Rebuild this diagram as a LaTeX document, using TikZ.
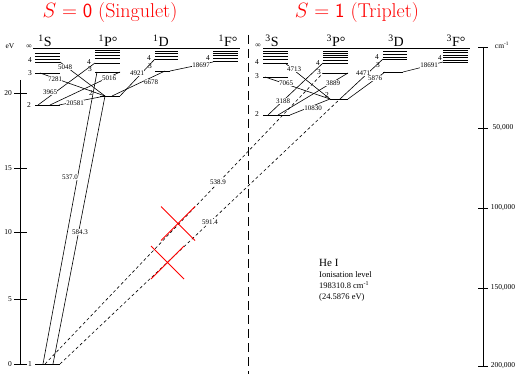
\documentclass[tikz,border=0pt]{standalone}
\usepackage{fontspec}
\newfontfamily\tms{Liberation Serif}
% a stack of level lines from x=#1 to x=#2
\newcommand\lvls[3]{\foreach \yy in {#3} \draw[lev] (#1,\yy) -- (#2,\yy);}
\begin{document}
\begin{tikzpicture}[x=1pt,y=-1pt,
  lev/.style={line width=0.8pt},
  tr/.style={line width=0.6pt},
  forb/.style={line width=0.6pt,dash pattern=on 3pt off 2.5pt},
  lbl/.style={font=\tms\fontsize{7}{7}\selectfont,fill=white,inner sep=0.4pt},
  num/.style={font=\tms\fontsize{7.5}{7.5}\selectfont,inner sep=0pt},
  term/.style={font=\tms\fontsize{14}{14}\selectfont,inner sep=0pt,anchor=base},
  ttl/.style={font=\fontsize{20}{20}\selectfont,text=red,inner sep=0pt},
  cross/.style={red,line width=0.8pt}]
\useasboundingbox (0,0) rectangle (519,374);

\node[ttl] (tsing) at (110,13) {$S=\mathsf{0}$ (Singulet)};
\node[ttl] (ttrip) at (357,13) {$S=\mathsf{1}$ (Triplet)};

\node[term] (S1) at (45,46.5) {\textsuperscript{1}S};
\node[term] (P1) at (108,46.5) {\textsuperscript{1}P°};
\node[term] (D1) at (161,46.5) {\textsuperscript{1}D};
\node[term] (F1) at (228,46.5) {\textsuperscript{1}F°};
\node[term] (S3) at (272,46.5) {\textsuperscript{3}S};
\node[term] (P3) at (336,46.5) {\textsuperscript{3}P°};
\node[term] (D3) at (396,46.5) {\textsuperscript{3}D};
\node[term] (F3) at (456,46.5) {\textsuperscript{3}F°};

% ionisation limit and divider
\draw[lev] (33,48) -- (240,48);
\draw[lev] (263,48) -- (470,48);
\draw[line width=1pt,dash pattern=on 9pt off 5pt] (248,35) -- (248,374);

% eV scale
\node[num] (ev) at (10,46) {eV};
\draw[lev] (20,80) -- (20,364);
\foreach \v/\yy in {0/364,5/299,10/232,15/168,20/93} {
  \draw[lev] (14,\yy) -- (27,\yy);
  \node[num,anchor=east] at (12,\yy) {\v};
}
% wavenumber scale
\node[num] (cm) at (502,45) {cm\textsuperscript{-1}};
\draw[lev] (483,47) -- (483,366);
\draw[lev] (478,47) -- (488,47);
\foreach \v/\yy in {{50,000}/128,{100,000}/208,{150,000}/288,{200,000}/366} {
  \draw[lev] (478,\yy) -- (488,\yy);
  \node[num] at (503,\yy) {\v};
}

% singlet levels
\lvls{35}{60}{53,56,59,62,73,105,364}
\lvls{95}{120}{50.5,52.5,55,58.5,63,72}
\draw[lev] (100,96) -- (120,96);
\lvls{155}{178}{51,53.5,56,59}
\draw[lev] (155,71) -- (170,71);
\lvls{213}{238}{51,53.3,55.7,58.3,61.7}
% triplet levels
\lvls{263}{288}{51,53,56,59,63,77}
\draw[lev] (263,115) -- (290,115);
\lvls{323}{348}{51,53,55,57,60,63,73}
\draw[lev] (330,99) -- (348,99);
\lvls{383}{407}{51,54,57,59}
\draw[lev] (383,72) -- (403,72);
\lvls{443}{468}{50,52.5,55,57.5,60,62}

% n labels
\foreach \t/\xx/\yy in {∞/29/47,4/30/60,3/30/73,2/29/105,1/30/364,
    4/89/62,3/90/69,2/91/93,4/149/58,3/150/66,4/208/58,
    ∞/258/46,4/257/62,3/257/76,2/257/114,4/318/63,3/319/72,2/327/95,
    4/377/57,3/378/65,4/440/58}
  \node[num] at (\xx,\yy) {\t};

% end points of the lines
\coordinate (g1) at (43,364);  \coordinate (g2) at (53,364);
\coordinate (g3) at (45,364);  \coordinate (g4) at (60,364);
\coordinate (s2a) at (38,105); \coordinate (s2b) at (50,105);
\coordinate (s2c) at (59,105); \coordinate (s3) at (40,73);
\coordinate (s4) at (60,62);
\coordinate (p2) at (105,96);  \coordinate (p2b) at (112,96);
\coordinate (p2c) at (120,96); \coordinate (p3a) at (97,72);
\coordinate (p3b) at (120,72); \coordinate (p4) at (95,63);
\coordinate (d3a) at (165,71); \coordinate (d3b) at (170,71);
\coordinate (d4) at (155,59);  \coordinate (f4) at (213,62);
\coordinate (t2a) at (268,115); \coordinate (t2b) at (278,115);
\coordinate (t2c) at (290,115); \coordinate (t3) at (265,77);
\coordinate (t4) at (285,63);
\coordinate (q2) at (330,99);  \coordinate (q2b) at (340,99);
\coordinate (q2c) at (348,99); \coordinate (q3a) at (323,73);
\coordinate (q3b) at (348,73); \coordinate (q4) at (323,63);
\coordinate (e3a) at (385,72); \coordinate (e3b) at (403,72);
\coordinate (e4) at (383,59);  \coordinate (h4) at (443,62);

\draw[tr] (g1) -- (p3a);
\draw[tr] (g2) -- (p2);
\draw[tr] (s2a) -- (p4);
\draw[tr] (s2b) -- (p3b);
\draw[tr] (s2c) -- (p2);
\draw[tr] (s3) -- (p2);
\draw[tr] (s4) -- (p2);
\draw[tr] (p2c) -- (d4);
\draw[tr] (p2b) -- (d3a);
\draw[tr] (d3b) -- (f4);

\draw[tr] (t2a) -- (q4);
\draw[tr] (t2b) -- (q3b);
\draw[tr] (t2c) -- (q2);
\draw[tr] (t3) -- (q2);
\draw[tr] (t4) -- (q2);
\draw[tr] (q2b) -- (e4);
\draw[tr] (q2c) -- (e3a);
\draw[tr] (e3b) -- (h4);

\draw[forb] (g3) -- (q3a);
\draw[forb] (g4) -- (q2b);

% wavelengths
\node[lbl] (w5048) at (65,67) {5048};
\node[lbl] (w7281) at (55,79) {7281};
\node[lbl] (w3965) at (50,92) {3965};
\node[lbl] (w20581) at (75,103) {20581};
\node[lbl] (w5016) at (109,78) {5016};
\node[lbl] (w4921) at (137,73) {4921};
\node[lbl] (w6678) at (151,82) {6678};
\node[lbl] (w18697) at (201,65) {18697};
\node[lbl] (w537) at (70,177) {537.0};
\node[lbl] (w584) at (80,232) {584.3};
\node[lbl] (w4713) at (294,69) {4713};
\node[lbl] (w7065) at (286,83) {7065};
\node[lbl] (w3188) at (283,101) {3188};
\node[lbl] (w10830) at (313,108) {10830};
\node[lbl] (w3889) at (333,83) {3889};
\node[lbl] (w4471) at (363,73) {4471};
\node[lbl] (w5876) at (375,78) {5876};
\node[lbl] (w18691) at (429,65) {18691};
\node[lbl] (w538) at (218,182) {538.9};
\node[lbl] (w591) at (210,222) {591.4};

% forbidden lines struck out
\draw[cross] (161,206.5) -- (195,240.5) (161,240.5) -- (195,206.5);
\draw[cross] (151,246) -- (184,279) (151,279) -- (184,246);

\node[font=\tms\fontsize{11}{11}\selectfont,anchor=base west,inner sep=0pt] (hei) at (319,266) {He I};
\node[num,font=\tms\fontsize{8.5}{8.5}\selectfont,anchor=base west] (ion1) at (319,277) {Ionisation level};
\node[num,font=\tms\fontsize{8.5}{8.5}\selectfont,anchor=base west] (ion2) at (319,288) {198310.8 cm\textsuperscript{-1}};
\node[num,font=\tms\fontsize{8.5}{8.5}\selectfont,anchor=base west] (ion3) at (319,299) {(24.5876 eV)};
\end{tikzpicture}
\end{document}
